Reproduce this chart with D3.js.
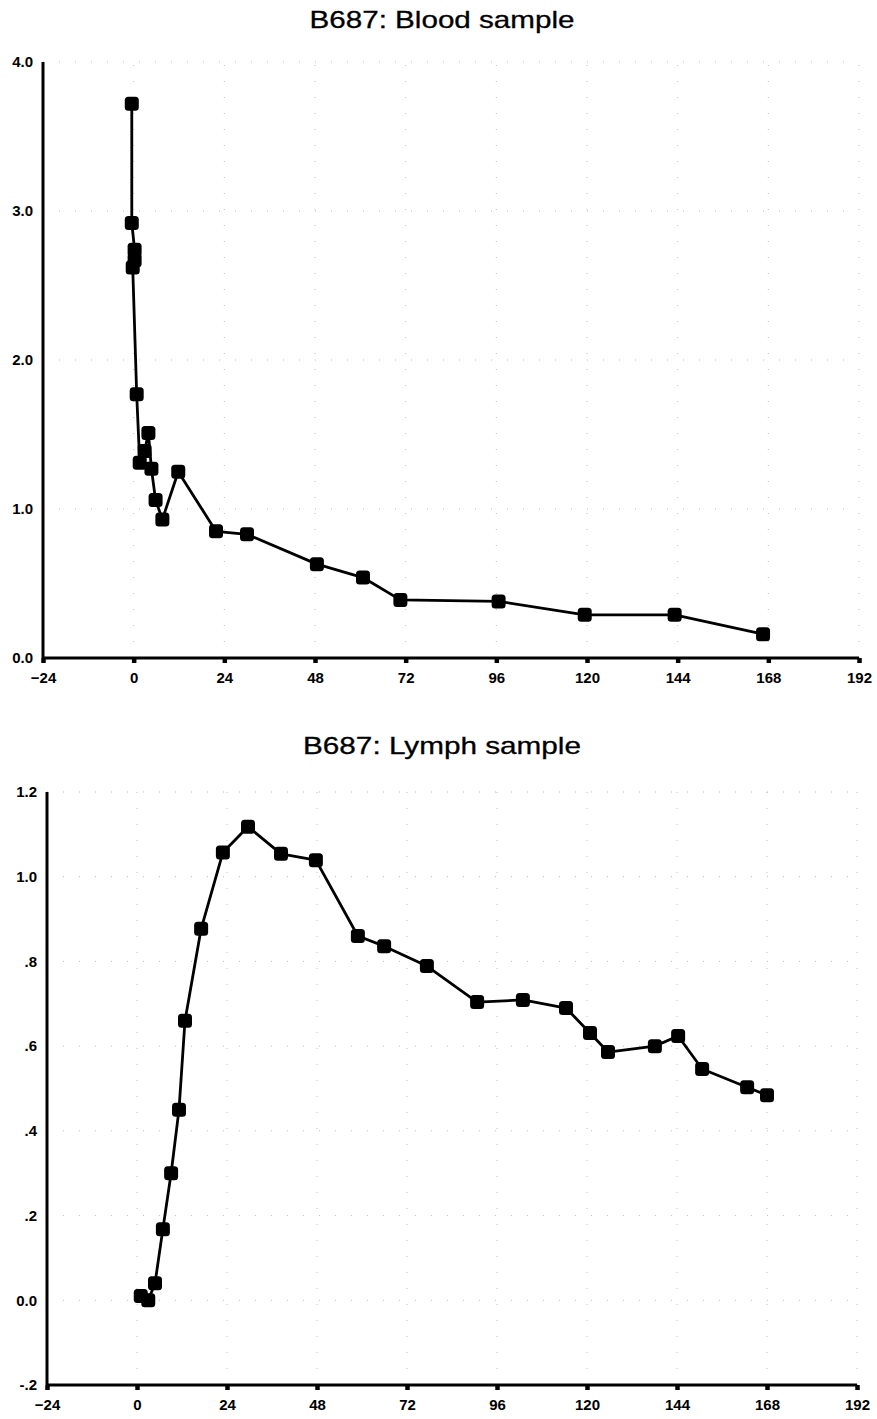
<!DOCTYPE html>
<html>
<head>
<meta charset="utf-8">
<script src="https://cdn.jsdelivr.net/npm/d3@7"></script>
<style>
  html, body { margin: 0; padding: 0; background: #fff; }
  svg { display: block; }
  .tick text { font-family: "Liberation Sans", Arial, sans-serif; font-weight: bold; font-size: 15px; fill: #000; }
  .title { font-family: "Liberation Sans", Arial, sans-serif; font-size: 24px; fill: #000; stroke: #000; stroke-width: 0.3px; }
</style>
</head>
<body>
<script>
// ---- data ----
const xTicks = [-24, 0, 24, 48, 72, 96, 120, 144, 168, 192];

const bloodTitle = "B687: Blood sample";
const bloodTime  = [-0.5, -0.5, 0.25, 0.25, -0.25, 0.8, 1.6, 2.9, 3.9, 4.7, 5.8, 7.6, 11.8, 21.8, 30, 48.5, 60.7, 70.6, 96.6, 119.4, 143.2, 166.6];
const bloodValue = [3.72, 2.92, 2.74, 2.67, 2.62, 1.77, 1.31, 1.39, 1.51, 1.27, 1.06, 0.93, 1.25, 0.85, 0.83, 0.63, 0.54, 0.39, 0.38, 0.29, 0.29, 0.16];
const bloodYTicks = [0, 1, 2, 3, 4];
const bloodYLabels = ["0.0", "1.0", "2.0", "3.0", "4.0"];

const lymphTitle = "B687: Lymph sample";
const lymphTime  = [1, 3, 4.8, 6.9, 9.1, 11.2, 12.8, 17.1, 22.9, 29.6, 38.4, 47.7, 58.9, 65.9, 77.3, 90.7, 102.9, 114.4, 120.8, 125.6, 138.1, 144.3, 150.7, 162.7, 168];
const lymphValue = [0.01, 0.0, 0.04, 0.168, 0.30, 0.45, 0.66, 0.877, 1.057, 1.118, 1.054, 1.039, 0.86, 0.836, 0.789, 0.704, 0.709, 0.69, 0.631, 0.586, 0.600, 0.624, 0.546, 0.503, 0.484];
const lymphYTicks = [-0.2, 0, 0.2, 0.4, 0.6, 0.8, 1.0, 1.2];
const lymphYLabels = ["-.2", "0.0", ".2", ".4", ".6", ".8", "1.0", "1.2"];

// ---- drawing ----
const W = 877, H = 1419;
const svg = d3.select("body").append("svg").attr("width", W).attr("height", H);

function panel(cfg) {
  const g = svg.append("g");
  const x = d3.scaleLinear().domain([-24, 192]).range([cfg.x0, cfg.x1]);
  const y = d3.scaleLinear().domain([cfg.yTicks[0], cfg.yTicks[cfg.yTicks.length - 1]]).range([cfg.y0, cfg.y1]);

  // title
  g.append("text").attr("class", "title")
    .attr("x", cfg.titleX).attr("y", cfg.titleY)
    .attr("text-anchor", "middle")
    .attr("textLength", cfg.titleLen).attr("lengthAdjust", "spacingAndGlyphs")
    .text(cfg.title);

  // faint dotted grid
  const grid = g.append("g").attr("stroke", "#bdbdbd").attr("stroke-width", 1).attr("stroke-dasharray", "1,15");
  grid.selectAll("line.h").data(cfg.yTicks.slice(1)).join("line")
    .attr("x1", cfg.x0).attr("x2", cfg.x1).attr("y1", d => y(d)).attr("y2", d => y(d));
  grid.selectAll("line.v").data(xTicks.slice(1)).join("line")
    .attr("y1", cfg.y0).attr("y2", cfg.y1).attr("x1", d => x(d)).attr("x2", d => x(d));

  // x axis
  const xa = g.append("g").attr("transform", `translate(0,${cfg.y0})`)
    .call(d3.axisBottom(x).tickValues(xTicks).tickSize(5).tickPadding(9).tickFormat(d3.format("d")));
  xa.select(".domain").attr("stroke", "#000").attr("stroke-width", 3).attr("d", `M${cfg.x0},0H${cfg.x1}`);
  xa.selectAll(".tick line").attr("stroke", "#000").attr("stroke-width", 4.5);
  xa.selectAll(".tick text").attr("dy", "0.71em");

  // y axis
  const ya = g.append("g").attr("transform", `translate(${cfg.x0},0)`)
    .call(d3.axisLeft(y).tickValues(cfg.yTicks).tickSize(0).tickPadding(10)
      .tickFormat((d, i) => cfg.yLabels[i]));
  ya.select(".domain").attr("stroke", "#000").attr("stroke-width", 3).attr("d", `M0,${cfg.y1}V${cfg.y0}`);

  // line
  const pts = cfg.t.map((t, i) => [t, cfg.v[i]]);
  g.append("path").datum(pts)
    .attr("fill", "none").attr("stroke", "#000").attr("stroke-width", 2.8).attr("stroke-linejoin", "round")
    .attr("d", d3.line().x(d => x(d[0])).y(d => y(d[1])));

  // markers
  const s = 14;
  g.selectAll("rect.m").data(pts).join("rect")
    .attr("x", d => x(d[0]) - s / 2).attr("y", d => y(d[1]) - s / 2)
    .attr("width", s).attr("height", s).attr("rx", 3.5).attr("ry", 3.5)
    .attr("fill", "#000");
}

panel({
  title: bloodTitle, titleX: 442, titleY: 28, titleLen: 265,
  x0: 43, x1: 859, y0: 658, y1: 62,
  yTicks: bloodYTicks, yLabels: bloodYLabels, t: bloodTime, v: bloodValue
});

panel({
  title: lymphTitle, titleX: 442, titleY: 754, titleLen: 278,
  x0: 47, x1: 857, y0: 1385, y1: 792,
  yTicks: lymphYTicks, yLabels: lymphYLabels, t: lymphTime, v: lymphValue
});
</script>
</body>
</html>
